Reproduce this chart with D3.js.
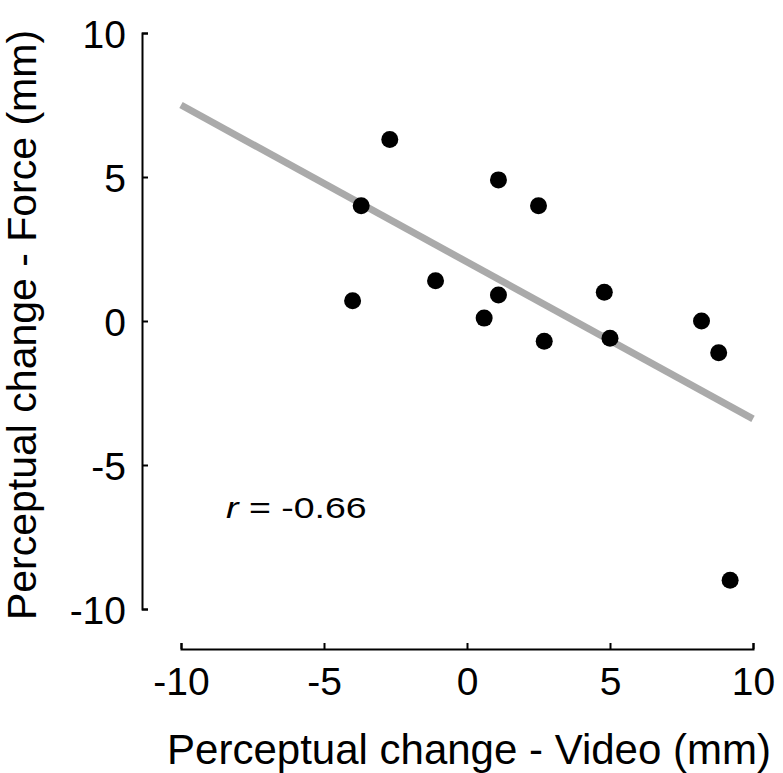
<!DOCTYPE html>
<html>
<head>
<meta charset="utf-8">
<script src="https://cdn.jsdelivr.net/npm/d3@7"></script>
<style>
  body { margin: 0; background: #fff; }
  svg text { font-family: "Liberation Sans", Arial, Helvetica, sans-serif; fill: #000; }
</style>
</head>
<body>
<div id="chart"></div>
<script>
// Data
const videoChange = [-4.0, -3.7, -2.7, -1.1, 0.6, 1.1, 1.1, 2.5, 2.7, 4.8, 5.0, 8.2, 8.8, 9.2];
const forceChange = [0.7, 4.0, 6.3, 1.4, 0.1, 0.9, 4.9, 4.0, -0.7, 1.0, -0.6, 0.0, -1.1, -9.0];
const fitX = [-10, 10];
const fitY = [7.5, -3.4];
const tickValues = [-10, -5, 0, 5, 10];
const corrLabel = "= -0.66";

const width = 783;
const height = 773;

const svg = d3.select("#chart")
    .append("svg")
    .attr("width", width)
    .attr("height", height);

const x = d3.scaleLinear().domain([-10, 10]).range([181, 753]);
const y = d3.scaleLinear().domain([-10, 10]).range([609, 33]);

// Axes sit offset from the data area
const xAxisY = 649;
const yAxisX = 142;

const xAxis = svg.append("g")
    .attr("transform", `translate(0,${xAxisY})`)
    .call(d3.axisBottom(x)
        .tickValues(tickValues)
        .tickFormat(d => String(d))
        .tickSizeInner(-6)
        .tickSizeOuter(-6)
        .tickPadding(46));

const yAxis = svg.append("g")
    .attr("transform", `translate(${yAxisX},0)`)
    .call(d3.axisLeft(y)
        .tickValues(tickValues)
        .tickFormat(d => String(d))
        .tickSizeInner(-6)
        .tickSizeOuter(-6)
        .tickPadding(16));

[xAxis, yAxis].forEach(g => {
    g.selectAll("path, line").attr("stroke", "#000").attr("stroke-width", 2);
    g.selectAll("text")
        .attr("font-size", 39)
        .attr("font-family", "'Liberation Sans', Arial, sans-serif");
});
xAxis.selectAll("text").attr("dy", 0).attr("y", 46);
yAxis.selectAll("text").attr("dy", "0.36em");

// Regression line
svg.append("line")
    .attr("x1", x(fitX[0]))
    .attr("y1", y(fitY[0]))
    .attr("x2", x(fitX[1]))
    .attr("y2", y(fitY[1]))
    .attr("stroke", "#aaaaaa")
    .attr("stroke-width", 7);

// Points
svg.selectAll("circle")
    .data(videoChange.map((v, i) => [v, forceChange[i]]))
    .enter()
    .append("circle")
    .attr("cx", d => x(d[0]))
    .attr("cy", d => y(d[1]))
    .attr("r", 8.5)
    .attr("fill", "#000");

// Correlation annotation (glyphs a bit wide in the original)
const corr = svg.append("text")
    .attr("transform", "translate(226,518) scale(1.25,1)")
    .attr("font-size", 30);
corr.append("tspan").attr("font-style", "italic").text("r");
corr.append("tspan").text(" " + corrLabel);

// Axis titles
svg.append("text")
    .attr("x", 469)
    .attr("y", 764)
    .attr("text-anchor", "middle")
    .attr("font-size", 42)
    .text("Perceptual change - Video (mm)");

svg.append("text")
    .attr("transform", "translate(36,325) rotate(-90)")
    .attr("text-anchor", "middle")
    .attr("font-size", 41)
    .text("Perceptual change - Force (mm)");
</script>
</body>
</html>
